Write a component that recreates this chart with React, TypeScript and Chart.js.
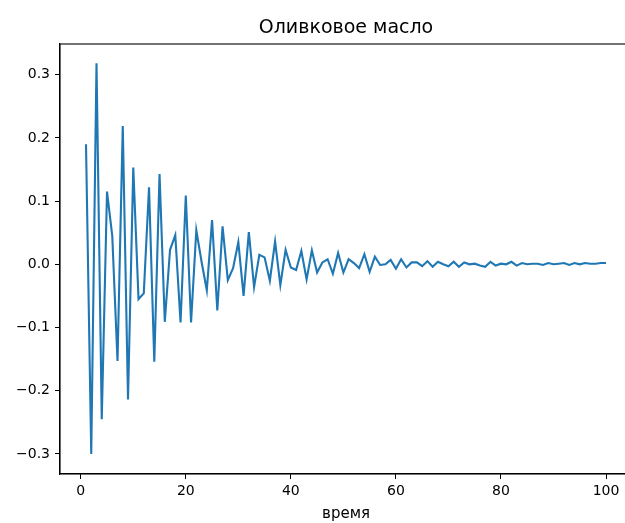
import React, { useEffect, useRef } from "react";
import { Chart, registerables } from "chart.js";

Chart.register(...registerables);

const TITLE = "Оливковое масло";
const X_LABEL = "время";

const VALUES: number[] = [
  0.19, -0.3, 0.318, -0.245, 0.115, 0.045, -0.153, 0.219, -0.214, 0.153,
  -0.055, -0.046, 0.122, -0.154, 0.143, -0.091, 0.023, 0.046, -0.092, 0.109,
  -0.092, 0.054, 0.004, -0.041, 0.07, -0.073, 0.06, -0.025, -0.006, 0.035,
  -0.05, 0.051, -0.036, 0.015, 0.011, -0.026, 0.036, -0.033, 0.023, -0.005,
  -0.009, 0.021, -0.024, 0.022, -0.013, 0.003, 0.008, -0.015, 0.018, -0.013,
  0.008, 0.002, -0.006, 0.016, -0.012, 0.012, -0.001, 0.0, 0.007, -0.007,
  0.008, -0.005, 0.003, 0.003, -0.003, 0.005, -0.004, 0.004, 0.0, -0.003,
  0.004, -0.004, 0.003, 0.0, 0.001, -0.002, -0.004, 0.004, -0.002, 0.001,
  0.0, 0.004, -0.002, 0.002, 0.0, 0.001, 0.001, -0.001, 0.002, 0.0,
  0.001, 0.002, -0.001, 0.002, 0.0, 0.002, 0.001, 0.001, 0.002, 0.002,
];

const TIMES: number[] = VALUES.map((_, i) => i + 1);

const X_TICKS: number[] = [0, 20, 40, 60, 80, 100];
const Y_TICKS: number[] = [-0.3, -0.2, -0.1, 0.0, 0.1, 0.2, 0.3];

const FONT = "'DejaVu Sans', sans-serif";

const frame = {
  id: "frame",
  afterDraw(chart: any) {
    const { ctx, chartArea } = chart;
    ctx.save();
    ctx.strokeStyle = "#000";
    ctx.lineWidth = 1.1;
    ctx.strokeRect(chartArea.left, chartArea.top, chartArea.right - chartArea.left, chartArea.bottom - chartArea.top);
    ctx.restore();
  },
};

export default function App() {
  const ref = useRef<HTMLCanvasElement | null>(null);

  useEffect(() => {
    if (!ref.current) return;
    const chart = new Chart(ref.current, {
      type: "line",
      data: {
        datasets: [
          {
            data: TIMES.map((t, i) => ({ x: t, y: VALUES[i] })),
            borderColor: "#1f77b4",
            backgroundColor: "#1f77b4",
            borderWidth: 2.1,
            pointRadius: 0,
            tension: 0,
            fill: false,
          },
        ],
      },
      options: {
        responsive: false,
        animation: false,
        devicePixelRatio: 1,
        layout: { padding: { left: 0, right: 8, top: 0, bottom: 0 } },
        plugins: {
          legend: { display: false },
          tooltip: { enabled: false },
          title: {
            display: true,
            fullSize: false,
            text: TITLE,
            color: "#000",
            font: { family: FONT, size: 19, weight: "normal" as any, lineHeight: 1.2 },
            padding: { top: 16.5, bottom: 4.7 },
          },
        },
        scales: {
          x: {
            type: "linear",
            min: -3.95,
            max: 104.95,
            afterFit(scale: any) {
              scale.height = 49;
            },
            afterBuildTicks(scale: any) {
              scale.ticks = X_TICKS.map((v) => ({ value: v }));
            },
            ticks: {
              color: "#000",
              font: { family: FONT, size: 14 },
              padding: 4,
              maxRotation: 0,
              autoSkip: false,
              callback: (v: any) => String(v),
            },
            grid: { drawOnChartArea: false, drawTicks: true, tickLength: 5, color: "#000", lineWidth: 1 },
            border: { display: true, color: "#000", width: 1.1 },
            title: {
              display: true,
              text: X_LABEL,
              color: "#000",
              font: { family: FONT, size: 15, lineHeight: 1.2 },
              padding: { top: 0, bottom: 0 },
            },
          },
          y: {
            type: "linear",
            min: -0.3318,
            max: 0.3486,
            afterFit(scale: any) {
              scale.width = 60;
            },
            afterBuildTicks(scale: any) {
              scale.ticks = Y_TICKS.map((v) => ({ value: v }));
            },
            ticks: {
              color: "#000",
              font: { family: FONT, size: 14 },
              padding: 5,
              autoSkip: false,
              callback: (v: any) => Number(v).toFixed(1).replace("-", "\u2212"),
            },
            grid: { drawOnChartArea: false, drawTicks: true, tickLength: 5, color: "#000", lineWidth: 1 },
            border: { display: true, color: "#000", width: 1.1 },
          },
        },
      },
      plugins: [frame],
    } as any);
    return () => chart.destroy();
  }, []);

  return (
    <div style={{ position: "absolute", left: 0, top: 0, width: 625, height: 523, overflow: "hidden", background: "#fff" }}>
      <canvas ref={ref} width={640} height={523} style={{ display: "block" }} />
    </div>
  );
}
